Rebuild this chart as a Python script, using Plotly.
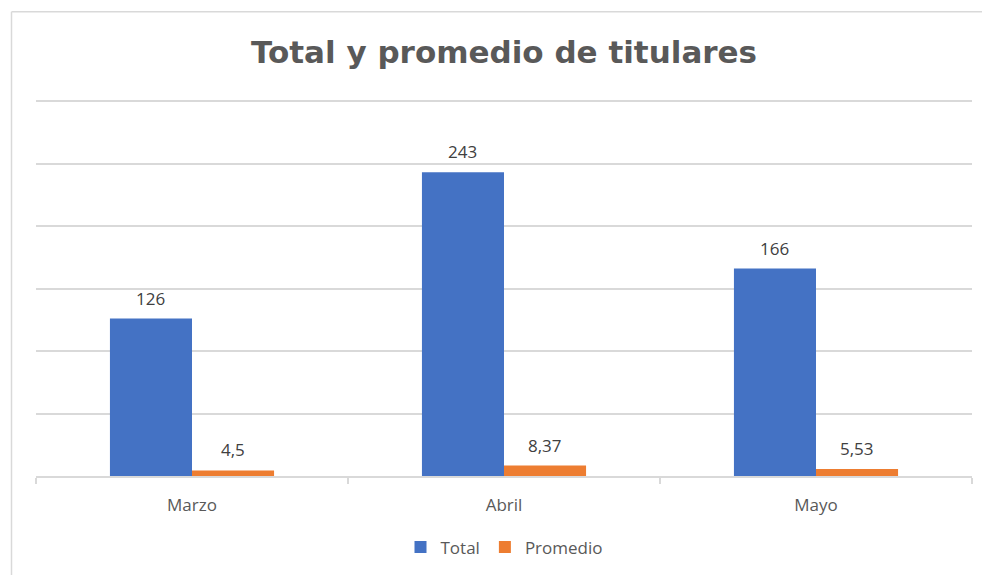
import plotly.graph_objects as go

categories = ["Marzo", "Abril", "Mayo"]
total = [126, 243, 166]
promedio = [4.5, 8.37, 5.53]
series_names = ["Total", "Promedio"]

W, H = 982, 575
L, R, T, B = 36, 10, 99, 96
pw, ph = W - L - R, H - T - B
y_top = 301.6

blue, orange = "#4472C4", "#ED7D31"
grid = "#D9D9D9"
font_family = "Open Sans, Liberation Sans, sans-serif"

def fmt(v):
    return f"{v:g}".replace(".", ",")

fig = go.Figure()
fig.add_trace(go.Bar(x=categories, y=total, name=series_names[0], marker_color=blue,
                     marker_line_width=0))
fig.add_trace(go.Bar(x=categories, y=promedio, name=series_names[1], marker_color=orange,
                     marker_line_width=0))

bargap = 0.474
cat_w = pw / len(categories)
bar_w = cat_w * (1 - bargap) / 2
for vals, sign in ((total, -1), (promedio, 1)):
    for c, v in zip(categories, vals):
        fig.add_annotation(x=c, y=v, text=fmt(v), showarrow=False, xref="x", yref="y",
                           xshift=sign * bar_w / 2, yanchor="bottom", yshift=7,
                           font=dict(family=font_family, size=17, color="#404040"))

def px_to_paper_x(px):
    return (px - L) / pw

def px_to_paper_y(py):
    return (H - B - py) / ph

fig.add_shape(type="line", xref="paper", yref="paper",
              x0=px_to_paper_x(11.5), x1=px_to_paper_x(990), y0=px_to_paper_y(11), y1=px_to_paper_y(11),
              line=dict(color=grid, width=1.5))
fig.add_shape(type="line", xref="paper", yref="paper",
              x0=px_to_paper_x(11.5), x1=px_to_paper_x(11.5), y0=px_to_paper_y(11), y1=px_to_paper_y(580),
              line=dict(color=grid, width=1.5))

fig.update_layout(
    width=W, height=H,
    margin=dict(l=L, r=R, t=T, b=B),
    paper_bgcolor="white", plot_bgcolor="white",
    barmode="group", bargap=bargap, bargroupgap=0,
    title=dict(text="<b>Total y promedio de titulares</b>", x=0.5, xref="paper",
               y=1 - 52 / H, yref="container", xanchor="center", yanchor="middle",
               font=dict(family="DejaVu Sans, sans-serif", size=31, color="#595959")),
    font=dict(family=font_family, color="#595959"),
    showlegend=True,
    legend=dict(orientation="h", x=0.5, xanchor="center", y=px_to_paper_y(551), yanchor="middle",
                font=dict(family=font_family, size=17, color="#595959"),
                itemwidth=30, traceorder="normal"),
)
fig.update_xaxes(showline=True, linecolor=grid, linewidth=1.5, ticks="outside", tickson="boundaries",
                 ticklen=6, tickcolor=grid, tickwidth=1.5,
                 tickfont=dict(family=font_family, size=17, color="#595959"),
                 ticklabelstandoff=13, showgrid=False)
fig.update_yaxes(range=[0, y_top], dtick=50, showgrid=True, gridcolor=grid, gridwidth=1.5,
                 showticklabels=False, zeroline=False, showline=False)

fig.write_html("out.html", config={"displayModeBar": False},
               post_script="document.body.style.margin='0';")
